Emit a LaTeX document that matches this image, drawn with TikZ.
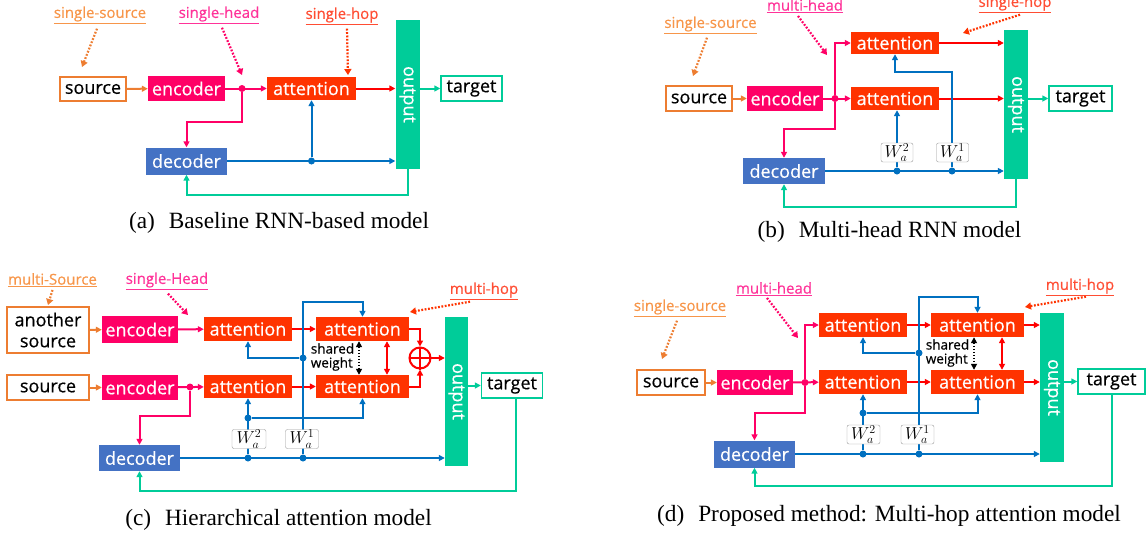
\documentclass[tikz,border=0pt]{standalone}
\usepackage{fontspec}
\setmainfont{Liberation Serif}
\newfontfamily\dgmfont[FakeBold=0.5]{Open Sans}
\usetikzlibrary{arrows.meta}
\pgfdeclarelayer{bg}
\pgfsetlayers{bg,main}

\definecolor{srcor}{HTML}{ED7D31}
\definecolor{encpk}{HTML}{FF0066}
\definecolor{attrd}{HTML}{FF3300}
\definecolor{decbl}{HTML}{4472C4}
\definecolor{outgr}{HTML}{00CC99}
\definecolor{lnbl}{HTML}{0070C0}
\definecolor{lnrd}{HTML}{FF0000}
\definecolor{notesrc}{HTML}{F7964A}
\definecolor{notehead}{HTML}{FF3399}
\definecolor{notehop}{HTML}{FF4D33}

\begin{document}
\begin{tikzpicture}[x=1pt,y=-1pt,
  blk/.style={inner sep=0pt,font=\dgmfont\fontsize{18}{21}\selectfont},
  wh/.style 2 args={minimum width=#1pt,minimum height=#2pt},
  inbox/.style={blk,draw=srcor,line width=1.4pt,fill=white},
  enc/.style={blk,fill=encpk,text=white},
  att/.style={blk,fill=attrd,text=white},
  dec/.style={blk,fill=decbl,text=white},
  outbar/.style={blk,fill=outgr,text=white,wh={24}{149}},
  tgt/.style={blk,draw=outgr,line width=1.4pt,fill=white},
  wbox/.style={draw=black!40,rounded corners=2pt,fill=white,inner sep=0pt,wh={32}{19},font=\fontsize{18}{18}\selectfont},
  note/.style={inner sep=1pt,font=\dgmfont\fontsize{15}{15}\selectfont},
  sw/.style={inner sep=0pt,align=left,font=\dgmfont\fontsize{13.5}{14}\selectfont},
  capt/.style={inner sep=0pt,font=\fontsize{23.3}{26}\selectfont},
  jdot/.style={circle,fill=#1,inner sep=0pt,minimum size=7pt},
  conn/.style={draw=#1,line width=2pt,-{Triangle[length=6pt,width=6pt]}},
  bi/.style={draw=#1,line width=2pt,{Triangle[length=6pt,width=6pt]}-{Triangle[length=6pt,width=6pt]}},
  hint/.style={draw=#1,line width=2.2pt,dash pattern=on 1.8pt off 1.6pt,-{Triangle[length=6pt,width=7pt]}}]
\useasboundingbox (0,0) rectangle (1148,539);

% (a) baseline
\node[note,text=notesrc] (a-n1) at (100,15) {\underline{single-source}};
\node[note,text=notehead] (a-n2) at (219,15) {\underline{single-head}};
\node[note,text=notehop] (a-n3) at (342,16) {\underline{single-hop}};
\node[inbox,wh={66}{24}] (a-src) at (93,89) {source};
\node[enc,wh={77}{25}] (a-enc) at (186.5,88.5) {encoder};
\node[att,wh={89}{23}] (a-att) at (311.5,88.5) {attention};
\node[outbar] (a-out) at (407.5,94.5) {\rotatebox{-90}{output}};
\node[tgt,wh={61}{25}] (a-tgt) at (471.5,88.5) {target};
\node[dec,wh={81}{27}] (a-dec) at (186.5,161) {decoder};
\node[jdot=encpk] (a-j1) at (242,88.5) {};
\node[jdot=lnbl] (a-j2) at (a-dec -| a-att) {};
\coordinate (a-h1) at (82,67);
\coordinate (a-h2) at (242,75);
\coordinate (a-h3) at (348,75);
\node[capt] (a-cap) at (279,223) {(a)\hspace{0.6em}Baseline RNN-based model};

% (b) multi-head
\node[note,text=notehead] (b-n1) at (805,6) {\underline{multi-head}};
\node[note,text=notesrc] (b-n2) at (710.5,25) {\underline{single-source}};
\node[note,text=notehop] (b-n3) at (1015,4) {\underline{single-hop}};
\node[inbox,wh={66}{25}] (b-src) at (699,98.5) {source};
\node[enc,wh={76}{25}] (b-enc) at (785,98.5) {encoder};
\node[att,wh={88}{22}] (b-att1) at (895,43) {attention};
\node[att,wh={88}{23}] (b-att2) at (895,98.5) {attention};
\node[outbar] (b-out) at (1016,104.5) {\rotatebox{-90}{output}};
\node[tgt,wh={63}{25}] (b-tgt) at (1080.5,98.5) {target};
\node[dec,wh={82}{26}] (b-dec) at (784,171) {decoder};
\node[jdot=encpk] (b-j1) at (835,98.5) {};
\node[jdot=lnbl] (b-j2) at (897,171) {};
\node[jdot=lnbl] (b-j3) at (952,171) {};
\node[wbox] (b-w2) at (897,152.5) {$W_a^2$};
\node[wbox] (b-w1) at (952.5,152.5) {$W_a^1$};
\coordinate (b-h1) at (827,55);
\coordinate (b-h2) at (693,76);
\coordinate (b-h3) at (963,33);
\node[capt] (b-cap) at (889.5,232) {(b)\hspace{0.6em}Multi-head RNN model};

% (c) hierarchical
\node[note,text=notesrc] (c-n1) at (52.5,280) {\underline{multi-Source}};
\node[note,text=notehead] (c-n2) at (167,281) {\underline{single-Head}};
\node[note,text=notehop] (c-n3) at (484,291) {\underline{multi-hop}};
\node[inbox,wh={82}{46},align=center] (c-src2) at (48,330) {another\\source};
\node[enc,wh={76}{27}] (c-enc1) at (140,329.5) {encoder};
\node[att,wh={88}{24}] (c-att1) at (248,329) {attention};
\node[att,wh={93}{24}] (c-att2) at (362.5,329) {attention};
\node[inbox,wh={82}{25}] (c-src) at (48,387.5) {source};
\node[enc,wh={76}{25}] (c-enc2) at (140,387.5) {encoder};
\node[att,wh={88}{23}] (c-att3) at (248,386.5) {attention};
\node[att,wh={93}{23}] (c-att4) at (362.5,386.5) {attention};
\node[circle,draw=lnrd,line width=2pt,minimum size=21pt,inner sep=0pt] (c-sum) at (420,358) {};
\draw[lnrd,line width=2pt] (c-sum.north) -- (c-sum.south) (c-sum.west) -- (c-sum.east);
\node[outbar,wh={23}{149}] (c-out) at (456.5,391.5) {\rotatebox{-90}{output}};
\node[tgt,wh={61}{25}] (c-tgt) at (512,385.5) {target};
\node[dec,wh={81}{26}] (c-dec) at (139.5,458) {decoder};
\node[jdot=encpk] (c-j1) at (190,387) {};
\node[jdot=lnbl] (c-j2) at (248,458) {};
\node[jdot=lnbl] (c-j3) at (303,458) {};
\node[jdot=lnbl] (c-j4) at (248,418) {};
\node[jdot=lnbl] (c-j5) at (303,358) {};
\node[wbox,wh={34}{19}] (c-w2) at (249,439) {$W_a^2$};
\node[wbox,wh={33}{19}] (c-w1) at (302,439) {$W_a^1$};
\node[sw] (c-sw) at (332.5,357) {shared\\weight};
\coordinate (c-h1) at (48,305);
\coordinate (c-h2) at (188,315);
\coordinate (c-h3) at (410,312);
\node[capt] (c-cap) at (278.5,520) {(c)\hspace{0.6em}Hierarchical attention model};

% (d) proposed
\node[note,text=notehead] (d-n1) at (774,289) {\underline{multi-head}};
\node[note,text=notesrc] (d-n2) at (680,308) {\underline{single-source}};
\node[note,text=notehop] (d-n3) at (1080,287) {\underline{multi-hop}};
\node[inbox,wh={68}{25}] (d-src) at (671,382.5) {source};
\node[enc,wh={76}{25}] (d-enc) at (755,382.5) {encoder};
\node[att,wh={88}{24}] (d-att1) at (863,325) {attention};
\node[att,wh={93}{24}] (d-att2) at (977.5,325) {attention};
\node[att,wh={88}{24}] (d-att3) at (863,382) {attention};
\node[att,wh={93}{24}] (d-att4) at (977.5,382) {attention};
\node[outbar] (d-out) at (1052,387.5) {\rotatebox{-90}{output}};
\node[tgt,wh={67}{25}] (d-tgt) at (1111.5,381.5) {target};
\node[dec,wh={81}{27}] (d-dec) at (754.5,454) {decoder};
\node[jdot=encpk] (d-j1) at (805,382.5) {};
\node[jdot=lnbl] (d-j2) at (863,454) {};
\node[jdot=lnbl] (d-j3) at (919,454) {};
\node[jdot=lnbl] (d-j4) at (863,413) {};
\node[jdot=lnbl] (d-j5) at (919,353) {};
\node[wbox,wh={33}{19}] (d-w2) at (863.5,434.5) {$W_a^2$};
\node[wbox,wh={33}{19}] (d-w1) at (917.5,434.5) {$W_a^1$};
\node[sw] (d-sw) at (947.5,353) {shared\\weight};
\coordinate (d-h1) at (798,338);
\coordinate (d-h2) at (662,359);
\coordinate (d-h3) at (1025,307);
\node[capt] (d-cap) at (889,516) {(d)\hspace{0.6em}Proposed method: Multi-hop attention model};

\begin{pgfonlayer}{bg}
% hints
\draw[hint=srcor] ([xshift=-3pt,yshift=-4pt]a-n1.south) -- (a-h1);
\draw[hint=encpk] ([xshift=3pt,yshift=-3pt]a-n2.south) -- (a-h2);
\draw[hint=attrd] ([xshift=5pt,yshift=-3pt]a-n3.south) -- (a-h3);
\draw[hint=encpk] ([xshift=-7pt,yshift=-2pt]b-n1.south) -- (b-h1);
\draw[hint=srcor] ([xshift=-3.5pt,yshift=-3pt]b-n2.south) -- (b-h2);
\draw[hint=attrd] ([xshift=5pt,yshift=-1pt]b-n3.south) -- (b-h3);
\draw[hint=srcor] ([yshift=-2pt]c-n1.south) -- (c-h1);
\draw[hint=encpk] ([xshift=1pt,yshift=-3pt]c-n2.south) -- (c-h2);
\draw[hint=attrd] ([xshift=-14pt,yshift=-1pt]c-n3.south) -- (c-h3);
\draw[hint=encpk] ([xshift=-7pt,yshift=-1pt]d-n1.south) -- (d-h1);
\draw[hint=srcor] ([xshift=-3pt,yshift=-3pt]d-n2.south) -- (d-h2);
\draw[hint=attrd] ([xshift=6pt]d-n3.south) -- (d-h3);

% (a)
\draw[conn=srcor] (a-src) -- (a-enc);
\draw[conn=encpk] (a-enc) -- (a-att);
\draw[conn=encpk] (a-j1) -- ++(0,33) -| (a-dec);
\draw[conn=lnrd] (a-att) -- (a-att -| a-out.west);
\draw[conn=outgr] (a-out.east |- a-tgt) -- (a-tgt);
\draw[conn=lnbl] (a-dec) -- (a-dec -| a-out.west);
\draw[conn=lnbl] (a-j2) -- (a-att);
\draw[conn=outgr] (a-out.south) -- ++(0,26) -| (a-dec);

% (b)
\draw[conn=srcor] (b-src) -- (b-enc);
\draw[conn=encpk] (b-enc) -- (b-att2);
\draw[conn=encpk] (b-j1) |- (b-att1);
\draw[conn=encpk] (b-j1) -- ++(0,30) -| (b-dec);
\draw[conn=lnrd] (b-att1) -- (b-att1 -| b-out.west);
\draw[conn=lnrd] (b-att2) -- (b-att2 -| b-out.west);
\draw[conn=outgr] (b-out.east |- b-tgt) -- (b-tgt);
\draw[conn=lnbl] (b-dec) -- (b-dec -| b-out.west);
\draw[conn=lnbl] (b-j2) -- (b-j2 |- b-att2.south);
\draw[conn=lnbl] (b-j3) -- ++(0,-99) -| (b-att1);
\draw[conn=outgr] (b-out.south) -- ++(0,28) -| (b-dec);

% (c)
\draw[conn=srcor] (c-src2) -- (c-enc1);
\draw[conn=srcor] (c-src) -- (c-enc2);
\draw[conn=encpk] (c-enc1) -- (c-att1);
\draw[conn=encpk] (c-enc2) -- (c-att3);
\draw[conn=encpk] (c-j1) -- ++(0,29) -| (c-dec);
\draw[conn=lnrd] (c-att1) -- (c-att2);
\draw[conn=lnrd] (c-att3) -- (c-att4);
\draw[conn=lnrd] (c-att2) -| (c-sum);
\draw[conn=lnrd] (c-att4) -| (c-sum);
\draw[conn=lnrd] (c-sum) -- (c-sum -| c-out.west);
\draw[conn=outgr] (c-out.east |- c-tgt) -- (c-tgt);
\draw[conn=lnbl] (c-dec) -- (c-dec -| c-out.west);
\draw[conn=lnbl] (c-j2) -- (c-att3);
\draw[conn=lnbl] (c-j4) -| (c-att4);
\draw[conn=lnbl] (c-j3) -- ++(0,-156) -| (c-att2);
\draw[conn=lnbl] (c-j5) -| (c-att1);
\draw[bi=black,line width=1.6pt,dash pattern=on 1.6pt off 1.4pt] ([xshift=-3.5pt]c-att2.south) -- ([xshift=-3.5pt]c-att4.north);
\draw[bi=lnrd] ([xshift=24.5pt]c-att2.south) -- ([xshift=24.5pt]c-att4.north);
\draw[conn=outgr] ([xshift=4pt]c-tgt.south) -- ++(0,92) -| (c-dec);

% (d)
\draw[conn=srcor] (d-src) -- (d-enc);
\draw[conn=encpk] (d-enc) -- (d-att3);
\draw[conn=encpk] (d-j1) |- (d-att1);
\draw[conn=encpk] (d-j1) -- ++(0,30.5) -| (d-dec);
\draw[conn=lnrd] (d-att1) -- (d-att2);
\draw[conn=lnrd] (d-att3) -- (d-att4);
\draw[conn=lnrd] (d-att2) -- (d-att2 -| d-out.west);
\draw[conn=lnrd] (d-att4) -- (d-att4 -| d-out.west);
\draw[conn=outgr] (d-out.east |- d-tgt) -- (d-tgt);
\draw[conn=lnbl] (d-dec) -- (d-dec -| d-out.west);
\draw[conn=lnbl] (d-j2) -- (d-att3);
\draw[conn=lnbl] (d-j4) -| (d-att4);
\draw[conn=lnbl] (d-j3) -- ++(0,-157) -| (d-att2);
\draw[conn=lnbl] (d-j5) -| (d-att1);
\draw[bi=black,line width=1.6pt,dash pattern=on 1.6pt off 1.4pt] ([xshift=-3.5pt]d-att2.south) -- ([xshift=-3.5pt]d-att4.north);
\draw[bi=lnrd] ([xshift=24.5pt]d-att2.south) -- ([xshift=24.5pt]d-att4.north);
\draw[conn=outgr] (d-tgt.south) -- ++(0,91.5) -| (d-dec);
\end{pgfonlayer}
\end{tikzpicture}
\end{document}
